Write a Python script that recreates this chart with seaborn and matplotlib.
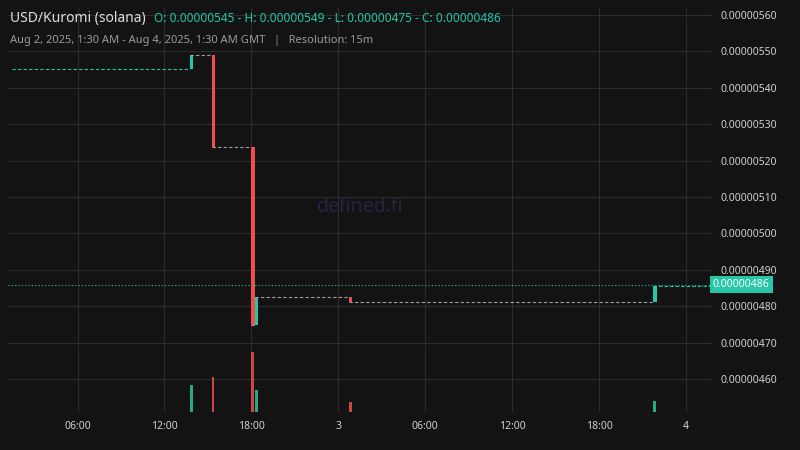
import numpy as np
import matplotlib
matplotlib.use("Agg")
import matplotlib.pyplot as plt
import seaborn as sns
import pandas as pd

# candle events: hours since Aug 2 00:00, prices in 1e-10 units
candle_t = [13.75, 15.25, 18.0, 18.25, 24.75, 45.75]
candle_open = [545.0, 549.0, 523.6, 475.0, 482.6, 481.3]
candle_close = [549.0, 523.6, 475.0, 482.6, 481.3, 485.6]
volume = [27, 35, 60, 22, 10, 11]
start_t, end_t = 1.5, 49.8
start_price = 545.0
last_price = 486.0

tick_hours = [6, 12, 18, 24, 30, 36, 42, 48]
tick_labels = ["06:00", "12:00", "18:00", "3", "06:00", "12:00", "18:00", "4"]

UP, DOWN, BG = "#26c6a6", "#f04e4e", "#131313"

sns.set_style("dark")
plt.rcParams["font.family"] = ["Noto Sans", "DejaVu Sans"]

fig = plt.figure(figsize=(8, 4.5), dpi=100, facecolor=BG)
ax = fig.add_axes([0.01, 0.084, 0.88, 0.898], facecolor=BG)

# flat stretches between candles (dashed)
flat_x = [start_t] + candle_t + [end_t]
flat_y = [start_price] + candle_close + [candle_close[-1]]
df = pd.DataFrame({"t": flat_x, "p": flat_y})
for i in range(len(flat_x) - 1):
    seg = df.iloc[i:i + 2].copy()
    seg.iloc[1, 1] = seg.iloc[0, 1]
    c = UP if i in (0, len(flat_x) - 2) else "#9aa0a0"
    sns.lineplot(data=seg, x="t", y="p", ax=ax, color=c, lw=0.8,
                 linestyle=(0, (3, 2)), legend=False)

for t, o, c in zip(candle_t, candle_open, candle_close):
    col = UP if c >= o else DOWN
    ax.bar(t, abs(c - o), bottom=min(o, c), width=0.22, color=col,
           align="edge", linewidth=0)

ax.axhline(last_price, color=UP, lw=0.8, linestyle=(0, (1, 2)))

ax.set_xlim(start_t - 0.3, end_t)
ax.set_ylim(451.0, 560.0 + 1.8)
ax.set_xticks(tick_hours)
ax.set_xticklabels(tick_labels, color="#d0d0d0", fontsize=7.5)
for lbl in ax.get_xticklabels():
    if lbl.get_text() in ("3", "4"):
        lbl.set_fontweight("bold")
ax.grid(True, color="#2c2c2c", lw=0.8)
ax.set_xlabel("")
ax.set_ylabel("")

# volume overlay at the bottom
vax = ax.twinx()
vax.set_ylim(0, 400)
for t, o, c, v in zip(candle_t, candle_open, candle_close, volume):
    vax.bar(t, v, width=0.2, color=UP if c >= o else DOWN, alpha=0.85,
            align="edge", linewidth=0)
vax.axhline(0.5, color="#888888", lw=0.8, linestyle=(0, (2, 2)))
vax.set_yticks([])
vax.set_ylabel("")
for s in vax.spines.values():
    s.set_visible(False)

# price axis on the right (after twinx)
yt = np.arange(460, 561, 10)
ax.set_yticks(yt)
ax.set_yticklabels([f"{v * 1e-8:.8f}" for v in yt], color="#d0d0d0", fontsize=7.5)
ax.yaxis.set_ticks_position("right")
ax.yaxis.set_label_position("right")
ax.tick_params(axis="y", left=False, labelleft=False, right=False, labelright=True)
ax.tick_params(length=0, pad=6)
for s in ax.spines.values():
    s.set_visible(False)
ax.axvline(end_t, color="#555555", lw=0.8)

ax.text(1.001, last_price, f"{last_price * 1e-8:.8f}", transform=ax.get_yaxis_transform(),
        va="center", ha="left", fontsize=7.5, color="white",
        bbox=dict(boxstyle="square,pad=0.3", fc=UP, ec="none"))

fig.text(0.5 * 0.88 + 0.01, 0.54, "defined.fi", color="#252540", fontsize=14,
         ha="center", va="center")
fig.text(0.012, 0.958, "USD/Kuromi (solana)", color="#e0e0e0", fontsize=10, va="center")
fig.text(0.193, 0.958, "O: 0.00000545 - H: 0.00000549 - L: 0.00000475 - C: 0.00000486",
         color=UP, fontsize=8.5, va="center")
fig.text(0.012, 0.91, "Aug 2, 2025, 1:30 AM - Aug 4, 2025, 1:30 AM GMT   |   Resolution: 15m",
         color="#9a9a9a", fontsize=8, va="center")

fig.savefig("out.png", dpi=100, facecolor=BG)
